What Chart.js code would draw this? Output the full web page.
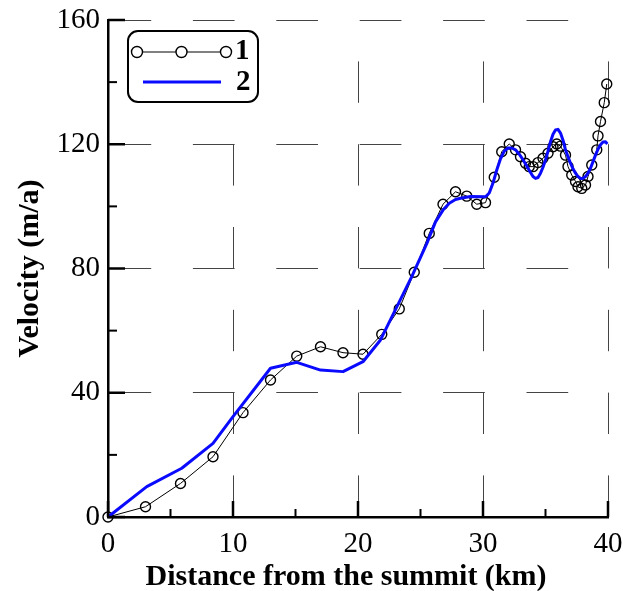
<!DOCTYPE html>
<html>
<head>
<meta charset="utf-8">
<script src="https://cdn.jsdelivr.net/npm/chart.js@4"></script>
<style>
  body { margin: 0; background: #fff; }
  #wrap { width: 623px; height: 591px; position: relative; }
</style>
</head>
<body>
<div id="wrap"><canvas id="grafico"></canvas></div>
<script>
// serie 1: circulos (medido)
const distancia1 = [0, 3.0, 5.8, 8.4, 10.8, 13.0, 15.1, 17.0, 18.8, 20.4, 21.9, 23.3, 24.5, 25.7, 26.8, 27.8, 28.7, 29.5, 30.2, 30.9,
  31.5, 32.1, 32.6, 33.0, 33.4, 33.7, 34.0, 34.4, 34.8, 35.2, 35.6, 35.9, 36.2, 36.6, 36.8, 37.1, 37.4, 37.6, 37.9, 38.2,
  38.4, 38.7, 39.1, 39.2, 39.4, 39.7, 39.9];
const velocidad1 = [0, 3.3, 10.8, 19.4, 33.6, 44.1, 51.8, 54.8, 52.9, 52.4, 58.8, 67.0, 78.8, 91.3, 100.7, 104.7, 103.3, 100.7, 101.2, 109.4,
  117.6, 120.1, 118.2, 116.0, 113.9, 112.8, 112.8, 114.1, 115.5, 117.1, 119.2, 120.1, 119.4, 116.5, 112.8, 110.1, 108.0, 106.3, 105.8, 106.9,
  109.6, 113.3, 118.2, 122.7, 127.3, 133.4, 139.4];

// serie 2: linea azul (modelo)
const distancia2 = [0, 3.1, 5.9, 8.4, 10.0, 13.0, 15.1, 17.0, 18.8, 20.4, 21.8, 24.3, 25.5, 26.2, 26.8, 27.3, 27.8, 28.2, 29.0, 30.2,
  30.5, 30.8, 31.1, 31.4, 31.7, 32.0, 32.3, 32.6, 32.9, 33.2, 33.5, 33.8, 34.0, 34.2, 34.4, 34.6, 34.8, 35.0, 35.2, 35.4,
  35.6, 35.8, 36.0, 36.2, 36.4, 36.6, 36.8, 37.0, 37.2, 37.4, 37.6, 37.8, 38.0, 38.2, 38.4, 38.6, 38.8, 39.0, 39.2, 39.4,
  39.6, 39.8, 39.95];
const velocidad2 = [0, 9.8, 15.7, 23.7, 32.3, 47.9, 49.8, 47.3, 46.8, 50.0, 57.0, 77.4, 88.0, 95.0, 98.8, 101.0, 102.2, 102.6, 103.2, 103.1,
  104.3, 107.5, 111.7, 115.3, 117.8, 118.8, 118.8, 118.2, 116.8, 115.0, 113.0, 110.9, 109.6, 109.0, 109.3, 110.7, 112.6, 114.9, 117.8, 120.8,
  123.2, 124.6, 124.8, 123.6, 121.3, 118.2, 116.0, 113.9, 112.1, 110.7, 109.6, 109.0, 109.0, 109.6, 110.7, 112.3, 114.4, 116.5, 118.4, 119.8,
  120.7, 120.8, 120.1];

const etiquetas = ["1", "2"];
const tituloX = "Distance from the summit (km)";
const tituloY = "Velocity (m/a)";
const xMin = 0, xMax = 40, xPaso = 10, xMenor = 5;
const yMin = 0, yMax = 160, yPaso = 40, yMenor = 20;

const fuente = "'Liberation Serif', 'Times New Roman', serif";
const azul = "#0a0aff";

const puntos = (xs, ys) => xs.map((x, i) => ({ x: x, y: ys[i] }));

// marcas hacia adentro, titulo X y leyenda con caja redondeada
const marco = {
  id: "marco",
  afterDraw(chart) {
    const { ctx, scales: { x, y } } = chart;
    ctx.save();
    ctx.strokeStyle = "#000";
    for (let v = xMin; v <= xMax; v += xMenor) {
      const px = x.getPixelForValue(v);
      const mayor = v % xPaso === 0;
      ctx.lineWidth = mayor ? 2.5 : 2;
      ctx.beginPath();
      ctx.moveTo(px, y.bottom);
      ctx.lineTo(px, y.bottom - (mayor ? 16 : 8));
      ctx.stroke();
    }
    for (let v = yMin; v <= yMax; v += yMenor) {
      const py = y.getPixelForValue(v);
      const mayor = v % yPaso === 0;
      ctx.lineWidth = mayor ? 2.5 : 2;
      ctx.beginPath();
      ctx.moveTo(x.left, py);
      ctx.lineTo(x.left + (mayor ? 17 : 9), py);
      ctx.stroke();
    }

    // titulo del eje X
    ctx.fillStyle = "#000";
    ctx.font = "bold 30px " + fuente;
    ctx.textAlign = "center";
    ctx.textBaseline = "middle";
    ctx.fillText(tituloX, 346, 577);

    // leyenda
    const bx = 128, by = 31, bw = 130, bh = 71;
    ctx.lineWidth = 2;
    ctx.beginPath();
    ctx.roundRect(bx, by, bw, bh, 10);
    ctx.fillStyle = "#fff";
    ctx.fill();
    ctx.stroke();

    const ds = chart.data.datasets;
    ctx.strokeStyle = ds[0].borderColor;
    ctx.lineWidth = ds[0].borderWidth;
    ctx.beginPath();
    ctx.moveTo(137, 52);
    ctx.lineTo(226, 52);
    ctx.stroke();
    ctx.lineWidth = ds[0].pointBorderWidth;
    [137, 181.5, 226].forEach(cx => {
      ctx.beginPath();
      ctx.arc(cx, 52, ds[0].pointRadius + 0.5, 0, Math.PI * 2);
      ctx.fillStyle = "#fff";
      ctx.fill();
      ctx.stroke();
    });
    ctx.strokeStyle = ds[1].borderColor;
    ctx.lineWidth = ds[1].borderWidth;
    ctx.beginPath();
    ctx.moveTo(143, 82);
    ctx.lineTo(221, 82);
    ctx.stroke();

    ctx.fillStyle = "#000";
    ctx.font = "bold 29px " + fuente;
    ctx.textAlign = "left";
    ctx.textBaseline = "middle";
    ctx.fillText(ds[0].label, 235, 52);
    ctx.fillText(ds[1].label, 236, 83);
    ctx.restore();
  }
};

new Chart(document.getElementById("grafico"), {
  type: "line",
  data: {
    datasets: [
      {
        label: etiquetas[0],
        data: puntos(distancia1, velocidad1),
        borderColor: "#000",
        borderWidth: 1,
        pointRadius: 5,
        pointBorderWidth: 1.4,
        pointBorderColor: "#000",
        pointBackgroundColor: "rgba(0,0,0,0)",
        tension: 0,
        clip: false,
        order: 2
      },
      {
        label: etiquetas[1],
        data: puntos(distancia2, velocidad2),
        borderColor: azul,
        borderWidth: 3,
        pointRadius: 0,
        tension: 0,
        borderJoinStyle: "round",
        clip: false,
        order: 1
      }
    ]
  },
  options: {
    responsive: true,
    maintainAspectRatio: false,
    animation: false,
    layout: { padding: { top: 20, right: 15, left: 0, bottom: 0 } },
    plugins: { legend: { display: false }, tooltip: { enabled: false } },
    scales: {
      x: {
        type: "linear",
        min: xMin, max: xMax,
        afterFit: s => { s.height = 74; s.paddingLeft = 0; s.paddingRight = 0; },
        ticks: { stepSize: xPaso, padding: 10, color: "#000", font: { family: fuente, size: 29 } },
        grid: { color: "#444", lineWidth: 1, drawTicks: false },
        border: { display: true, color: "#000", width: 2.5, dash: [41.4, 41.4], dashOffset: 41.4 },
        title: { display: false }
      },
      y: {
        min: yMin, max: yMax,
        afterFit: s => { s.width = 108; s.paddingTop = 0; s.paddingBottom = 0; },
        ticks: { stepSize: yPaso, padding: 8, color: "#000", font: { family: fuente, size: 29 } },
        grid: { color: "#444", lineWidth: 1, drawTicks: false },
        border: { display: true, color: "#000", width: 2.5, dash: [41.7, 41.7], dashOffset: 0 },
        title: { display: true, text: tituloY, color: "#000", padding: { top: 12, bottom: 0 },
          font: { family: fuente, size: 30, weight: "bold", lineHeight: 1.2 } }
      }
    }
  },
  plugins: [marco]
});
</script>
</body>
</html>
